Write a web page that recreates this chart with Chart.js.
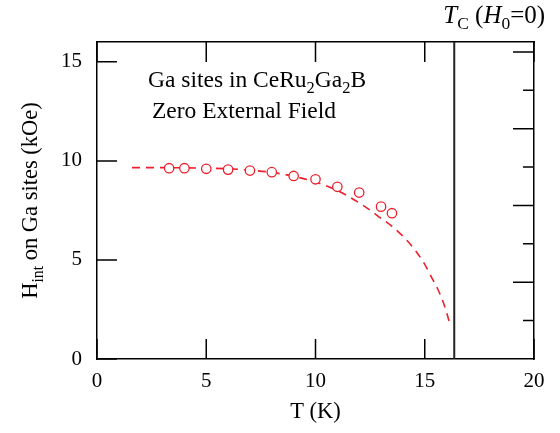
<!DOCTYPE html>
<html>
<head>
<meta charset="utf-8">
<script src="https://cdn.jsdelivr.net/npm/chart.js@4.4.1/dist/chart.umd.min.js"></script>
<style>
  html, body { margin: 0; padding: 0; background: #fff; }
  #wrap { width: 560px; height: 433px; }
</style>
</head>
<body>
<div id="wrap"><canvas id="c" width="560" height="433"></canvas></div>
<script>
// Measured internal field on the Ga sites (kOe) vs temperature (K)
const tempK = [3.3, 4, 5, 6, 7, 8, 9, 10, 11, 12, 13, 13.5];
const hintKOe = [9.63, 9.63, 9.6, 9.56, 9.51, 9.43, 9.24, 9.07, 8.69, 8.4, 7.69, 7.36];

// Guide curve (dashed)
const curveT = [1.6, 3, 4, 5, 6, 7, 8, 9, 10, 11, 12, 12.5, 13, 13.5, 14, 14.5, 15, 15.3, 15.6, 15.85, 16.0, 16.16];
const curveH = [9.66, 9.66, 9.65, 9.63, 9.6, 9.53, 9.42, 9.22, 8.93, 8.5, 7.88, 7.51, 7.1, 6.7, 6.2, 5.58, 4.78, 4.15, 3.52, 2.85, 2.35, 1.71];

// Transition temperature at zero applied field
const tcK = 16.35;

// Tick values
const xTicks = [0, 5, 10, 15, 20];
const yTicks = [0, 5, 10, 15];
const rightMajor = [1, 2, 3, 4];
const rightMinor = [0.5, 1.5, 2.5, 3.5];

const SERIF = "'Liberation Serif', 'Times New Roman', serif";
const RED = 'rgb(236, 32, 44)';

function toXY(xs, ys) { return xs.map((x, i) => ({ x: x, y: ys[i] })); }

// Draw a run of text pieces, some italic or subscripted
function richText(ctx, parts, x, y, size, align) {
  const fontOf = p => (p.it ? 'italic ' : '') + (p.sub ? size * 0.7 : size) + 'px ' + SERIF;
  let w = 0;
  parts.forEach(p => { ctx.font = fontOf(p); w += ctx.measureText(p.t).width; });
  let cx = align === 'center' ? x - w / 2 : x;
  ctx.textAlign = 'left';
  ctx.textBaseline = 'alphabetic';
  parts.forEach(p => {
    ctx.font = fontOf(p);
    ctx.fillText(p.t, cx, y + (p.sub ? size * 0.25 : 0));
    cx += ctx.measureText(p.t).width;
  });
}

const framePlugin = {
  id: 'frame',
  afterDraw(chart) {
    const ctx = chart.ctx;
    const a = chart.chartArea;
    const sx = chart.scales.x, sy = chart.scales.y, sr = chart.scales.y2;
    ctx.save();
    ctx.strokeStyle = '#000';
    ctx.lineWidth = 1.5;
    ctx.beginPath();
    // inward ticks on bottom and top
    xTicks.forEach(v => {
      const px = sx.getPixelForValue(v);
      ctx.moveTo(px, a.bottom); ctx.lineTo(px, a.bottom - 20);
      ctx.moveTo(px, a.top); ctx.lineTo(px, a.top + 20);
    });
    // inward ticks on left
    yTicks.forEach(v => {
      const py = sy.getPixelForValue(v);
      ctx.moveTo(a.left, py); ctx.lineTo(a.left + 20, py);
    });
    // right-hand scale ticks
    rightMajor.forEach(v => {
      const py = sr.getPixelForValue(v);
      ctx.moveTo(a.right, py); ctx.lineTo(a.right - 21, py);
    });
    rightMinor.forEach(v => {
      const py = sr.getPixelForValue(v);
      ctx.moveTo(a.right, py); ctx.lineTo(a.right - 11, py);
    });
    ctx.stroke();

    ctx.fillStyle = '#000';
    // annotation
    richText(ctx, [
      { t: 'Ga sites in CeRu' }, { t: '2', sub: true }, { t: 'Ga' }, { t: '2', sub: true }, { t: 'B' }
    ], a.left + 51, a.top + 45, 23.5);
    richText(ctx, [{ t: 'Zero External Field' }], a.left + 55, a.top + 76, 23.5);

    // Tc label
    const tcPx = sx.getPixelForValue(tcK);
    richText(ctx, [
      { t: 'T', it: true }, { t: 'C', sub: true }, { t: ' (' }, { t: 'H', it: true }, { t: '0', sub: true }, { t: '=0)' }
    ], tcPx - 11, 23, 25);

    // x title
    richText(ctx, [{ t: 'T (K)' }], (a.left + a.right) / 2, 418, 22.5, 'center');

    // y title
    ctx.save();
    ctx.translate(37, (a.top + a.bottom) / 2);
    ctx.rotate(-Math.PI / 2);
    richText(ctx, [
      { t: 'H' }, { t: 'int', sub: true }, { t: ' on Ga sites (kOe)' }
    ], 0, 0, 22.5, 'center');
    ctx.restore();
    ctx.restore();
  }
};

new Chart(document.getElementById('c'), {
  type: 'scatter',
  data: {
    datasets: [
      {
        label: 'Tc',
        data: [{ x: tcK, y: 0 }, { x: tcK, y: 16 }],
        showLine: true,
        borderColor: '#222',
        borderWidth: 2,
        pointRadius: 0,
        order: 3
      },
      {
        label: 'guide',
        data: toXY(curveT, curveH),
        showLine: true,
        borderColor: RED,
        borderWidth: 1.6,
        borderDash: [8, 6],
        cubicInterpolationMode: 'monotone',
        pointRadius: 0,
        order: 2
      },
      {
        label: 'Hint',
        data: toXY(tempK, hintKOe),
        showLine: false,
        pointStyle: 'circle',
        pointRadius: 4.7,
        pointBorderWidth: 1.3,
        borderColor: RED,
        backgroundColor: '#fff',
        order: 1
      }
    ]
  },
  options: {
    responsive: false,
    animation: false,
    layout: { padding: 0 },
    plugins: { legend: { display: false }, tooltip: { enabled: false } },
    scales: {
      x: {
        type: 'linear', position: 'bottom', min: 0, max: 20,
        afterBuildTicks: s => { s.ticks = xTicks.map(v => ({ value: v })); },
        grid: { display: false, drawTicks: false },
        border: { display: true, color: '#000', width: 1.5 },
        ticks: { color: '#000', font: { family: SERIF, size: 21 }, padding: 10, maxRotation: 0 },
        afterFit: s => { s.height = 433 - 359; }
      },
      x2: {
        type: 'linear', position: 'top', min: 0, max: 20,
        grid: { display: false, drawTicks: false },
        border: { display: true, color: '#000', width: 1.5 },
        ticks: { display: false },
        afterFit: s => { s.height = 42; }
      },
      y: {
        type: 'linear', position: 'left', min: 0, max: 16,
        afterBuildTicks: s => { s.ticks = yTicks.map(v => ({ value: v })); },
        grid: { display: false, drawTicks: false },
        border: { display: true, color: '#000', width: 1.5 },
        ticks: { color: '#000', font: { family: SERIF, size: 21 }, padding: 15 },
        afterFit: s => { s.width = 97; }
      },
      y2: {
        type: 'linear', position: 'right', min: 0, max: 4.13,
        grid: { display: false, drawTicks: false },
        border: { display: true, color: '#000', width: 1.5 },
        ticks: { display: false },
        afterFit: s => { s.width = 26; }
      }
    }
  },
  plugins: [framePlugin]
});
</script>
</body>
</html>
